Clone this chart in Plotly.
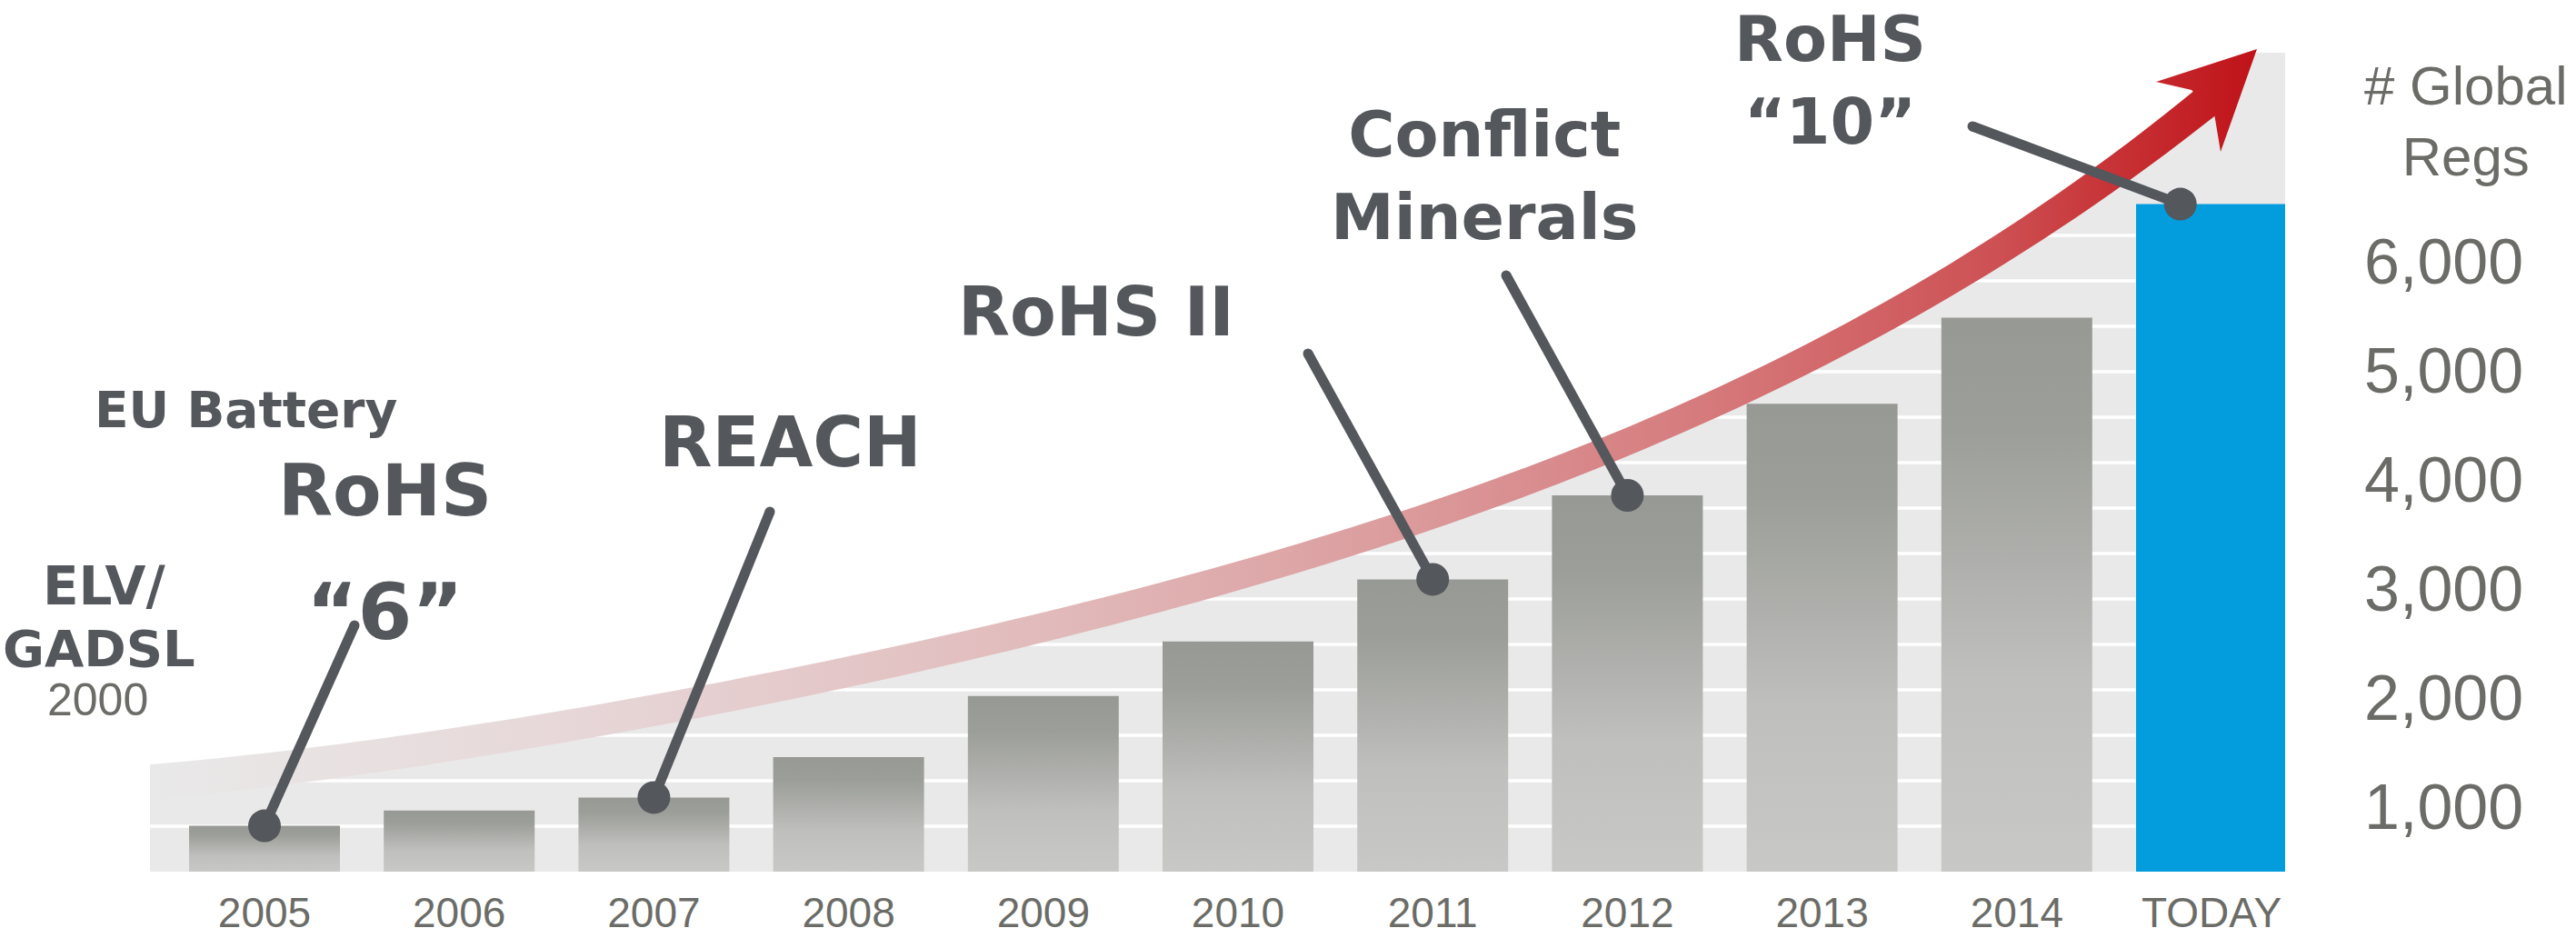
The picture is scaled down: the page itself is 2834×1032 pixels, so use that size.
import numpy as np
import plotly.graph_objects as go

# ==========================================
# DATA
# ==========================================

years = ["2005", "2006", "2007", "2008", "2009", "2010",
         "2011", "2012", "2013", "2014", "TODAY"]
global_regs = [820, 960, 1080, 1450, 2010, 2510, 3080, 3850, 4690, 5480, 6520]

y_ticks = [1000, 2000, 3000, 4000, 5000, 6000]
y_tick_labels = ["1,000", "2,000", "3,000", "4,000", "5,000", "6,000"]

# which bar each regulation callout points at
milestones = ["RoHS “6”", "REACH", "RoHS II", "Conflict Minerals", "RoHS “10”"]
milestone_bars = [0, 2, 6, 7, 10]

# ==========================================
# COLORS
# ==========================================

DARK = "#54575c"
TICK = "#6b6c67"
WEDGE = "#e9e9e9"
BLUE = "#039ddd"

bar_scale = [[0, "#c8c8c6"], [0.35, "#bfbfbd"], [0.8, "#9c9e99"], [1, "#979994"]]
arrow_scale = [[0, "#e9e9e9"], [0.209, "#e7d6d7"], [0.321, "#e4c8c9"],
               [0.434, "#e1b9ba"], [0.576, "#dc9fa0"], [0.735, "#d67b7d"],
               [0.878, "#cd5053"], [0.921, "#c8383b"], [1, "#bf1218"]]

# ==========================================
# PAGE GEOMETRY (pixels of the 2834 x 1032 page)
# ==========================================

W, H = 2834, 1032
PLOT_L, PLOT_R, PLOT_B = 165, 2514, 959
X0_PX, DX_PX = 291, 214.2        # centre of first bar, bar pitch
Y0_PX, PX_PER_UNIT = 1007, 0.12  # where 0 regs would sit, px per reg
BAR_HALF = 0.3875


def dx(px):
    return (px - X0_PX) / DX_PX


def dy(py):
    return (Y0_PX - py) / PX_PER_UNIT


def paper_x(px):
    return (px - PLOT_L) / (PLOT_R - PLOT_L)


def paper_y(py):
    return (PLOT_B - py) / PLOT_B


y_floor = dy(PLOT_B)

# growth arrow edges
top_edge = [(165, 843), (450, 803), (750, 760), (910, 730), (1170, 670),
            (1383, 610), (1550, 560), (1750, 482), (1870, 434), (2100, 322),
            (2300, 190), (2411, 99)]
bottom_edge = [(165, 882), (318, 860), (650, 812), (910, 760), (1170, 706),
               (1500, 608), (1683, 537), (1870, 470), (2300, 233), (2436, 125)]
head = [(2411, 99), (2372, 90), (2483, 54), (2443, 167), (2436, 125)]

tx, ty = zip(*top_edge)
bx, by = zip(*bottom_edge)
top_fit = np.polyfit(tx, ty, 4)
bot_fit = np.polyfit(bx, by, 4)

xs_top = np.linspace(100, 2420, 120)
xs_bot = np.linspace(100, 2442, 120)
shaft_px_x = np.concatenate([xs_top, xs_bot[::-1]])
shaft_px_y = np.concatenate([np.polyval(top_fit, xs_top),
                             np.polyval(bot_fit, xs_bot[::-1])])

# ==========================================
# FIGURE
# ==========================================

fig = go.Figure()

# gray wedge behind the bars, topped by the arrow midline
xs_mid = np.linspace(PLOT_L, 2425, 80)
mid_y = (np.polyval(top_fit, xs_mid) + np.polyval(bot_fit, xs_mid)) / 2
pts = [(PLOT_L, PLOT_B + 20)] + list(zip(xs_mid, mid_y)) + \
      [(2483, 58), (PLOT_R, 58), (PLOT_R, PLOT_B + 20)]
wedge_path = "M " + " L ".join(f"{dx(a):.4f},{dy(b):.2f}" for a, b in pts) + " Z"

shapes = [dict(type="path", path=wedge_path, xref="x", yref="y",
               fillcolor=WEDGE, line=dict(width=0), layer="below")]
for k in range(1, 15):
    yk = dy(PLOT_B - 50 * k)
    shapes.append(dict(type="line", xref="x", yref="y",
                       x0=dx(PLOT_L), x1=dx(PLOT_R), y0=yk, y1=yk,
                       line=dict(color="white", width=3.5), layer="below"))

# ==========================================
# ARROW
# ==========================================

grad = dict(type="horizontal", colorscale=arrow_scale,
            start=dx(165), stop=dx(2483))

fig.add_trace(go.Scatter(
    x=[dx(p) for p in shaft_px_x], y=[dy(p) for p in shaft_px_y],
    mode="none", fill="toself", fillgradient=grad,
    hoverinfo="skip", showlegend=False
))
hx, hy = zip(*head)
fig.add_trace(go.Scatter(
    x=[dx(p) for p in hx] + [dx(hx[0])], y=[dy(p) for p in hy] + [dy(hy[0])],
    mode="none", fill="toself", fillgradient=grad,
    hoverinfo="skip", showlegend=False
))

# ==========================================
# BARS
# ==========================================

for i in range(len(years) - 1):
    v = global_regs[i]
    x0, x1 = i - BAR_HALF, i + BAR_HALF
    fig.add_trace(go.Scatter(
        x=[x0, x1, x1, x0, x0],
        y=[y_floor, y_floor, v, v, y_floor],
        mode="none", fill="toself",
        fillgradient=dict(type="vertical", colorscale=bar_scale,
                          start=y_floor, stop=v),
        name=years[i], hoveron="fills",
        text=f"{years[i]}: {v:,}", hoverinfo="text",
        showlegend=False
    ))

fig.add_trace(go.Bar(
    x=[len(years) - 1], y=[global_regs[-1]],
    width=2 * BAR_HALF,
    marker=dict(color=BLUE, line=dict(width=0)),
    name=years[-1], showlegend=False
))

# ==========================================
# CALLOUT LEADERS
# ==========================================

leader_tops = [(390, 688), (847, 563), (1439, 389), (1657, 303), (2170, 139)]
dot_shift = [0, 0, 0, 0, -0.16]

for name, b, (tpx, tpy), s in zip(milestones, milestone_bars, leader_tops, dot_shift):
    fig.add_trace(go.Scatter(
        x=[dx(tpx), b + s], y=[dy(tpy), global_regs[b]],
        mode="lines+markers",
        line=dict(color=DARK, width=11),
        marker=dict(color=DARK, size=11, opacity=1, line=dict(width=0)),
        name=name, hoverinfo="name", showlegend=False
    ))

fig.add_trace(go.Scatter(
    x=[b + s for b, s in zip(milestone_bars, dot_shift)],
    y=[global_regs[b] for b in milestone_bars],
    mode="markers",
    marker=dict(color=DARK, size=36, opacity=1, line=dict(width=0)),
    text=milestones, hoverinfo="text", showlegend=False
))

# ==========================================
# LABELS
# ==========================================

labels = [
    ("EU Battery", 270, 451, 55),
    ("RoHS", 423, 540, 78),
    ("“6”", 423, 673, 86),
    ("ELV/", 114, 645, 58),
    ("GADSL", 109, 713, 56),
    ("REACH", 869, 486, 76),
    ("RoHS II", 1206, 343, 74),
    ("Conflict<br>Minerals", 1633, 194, 70),
]

annotations = []
for text, px, py, size in labels:
    annotations.append(dict(
        text=text, x=paper_x(px), y=paper_y(py), xref="paper", yref="paper",
        xanchor="center", yanchor="middle", showarrow=False,
        font=dict(family="DejaVu Sans", size=size, color=DARK, weight="bold")
    ))

# top callout sits against the top edge
annotations.append(dict(
    text="RoHS<br>“10”", x=paper_x(2013), y=1, xref="paper", yref="paper",
    xanchor="center", yanchor="top", showarrow=False,
    font=dict(family="DejaVu Sans", size=70, color=DARK, weight="bold")
))

annotations.append(dict(
    text="2000", x=paper_x(107), y=paper_y(770), xref="paper", yref="paper",
    xanchor="center", yanchor="middle", showarrow=False,
    font=dict(family="Liberation Sans, Arial", size=50, color=TICK)
))
annotations.append(dict(
    text="# Global<br>Regs", x=paper_x(2826), y=paper_y(133), xref="paper",
    yref="paper", xanchor="right", yanchor="middle", align="center",
    showarrow=False,
    font=dict(family="Liberation Sans, Arial", size=60, color=TICK)
))

# ==========================================
# LAYOUT
# ==========================================

fig.update_layout(
    width=W, height=H,
    margin=dict(l=PLOT_L, r=W - PLOT_R, t=0, b=H - PLOT_B),
    plot_bgcolor="white", paper_bgcolor="white",
    shapes=shapes, annotations=annotations,
    showlegend=False,
    xaxis=dict(
        range=[dx(PLOT_L), dx(PLOT_R)],
        tickvals=list(range(len(years))), ticktext=years,
        tickfont=dict(family="Liberation Sans, Arial", size=46, color=TICK),
        ticklabelstandoff=14, automargin=False,
        showgrid=False, zeroline=False, showline=False, ticks=""
    ),
    yaxis=dict(
        range=[y_floor, dy(0)], side="right",
        tickvals=y_ticks, ticktext=y_tick_labels,
        tickfont=dict(family="Liberation Sans, Arial", size=70, color=TICK),
        ticklabelstandoff=86, automargin=False,
        showgrid=False, zeroline=False, showline=False, ticks=""
    )
)

# the page's default body margin would push the figure off the window
fig.write_html("out.html", config={"displayModeBar": False},
               post_script="document.body.style.margin = '0';")
